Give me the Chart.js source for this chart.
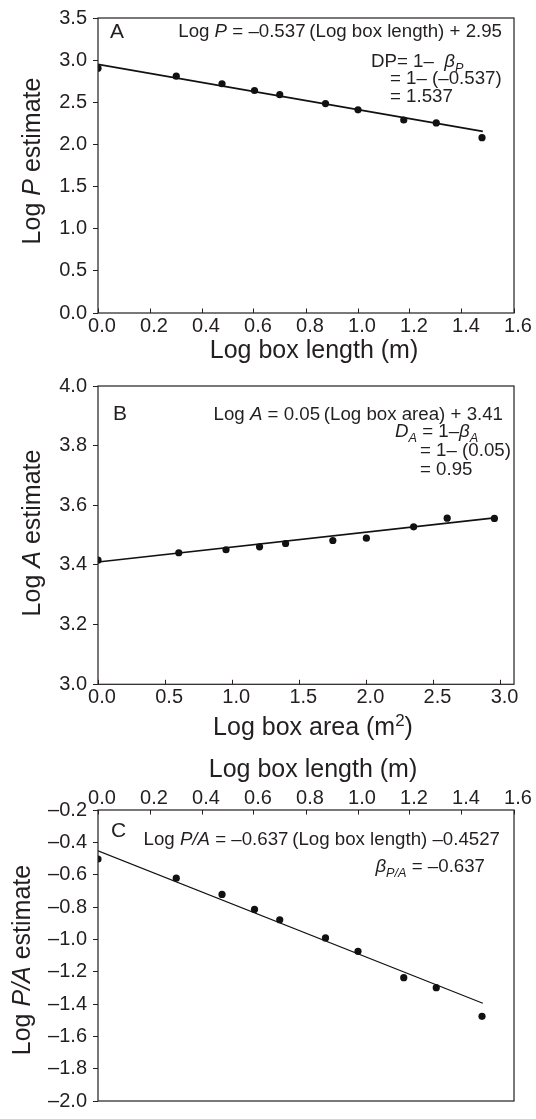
<!DOCTYPE html>
<html>
  <head>
    <script src="https://cdn.jsdelivr.net/npm/chart.js@4.4.1/dist/chart.umd.min.js"></script>
    <style>
      body { margin: 0; background: #fff; }
      canvas { position: absolute; left: 0; }
    </style>
  </head>
  <body>
    <canvas id="panel-a" width="536" height="368" style="top:0px"></canvas>
    <canvas id="panel-b" width="536" height="376" style="top:368px"></canvas>
    <canvas id="panel-c" width="536" height="375" style="top:744px"></canvas>
    <script>
      // INPUT DATA

      const logBoxLength = [0, 0.301, 0.477, 0.602, 0.699, 0.875, 1.0, 1.176, 1.301, 1.477];
      const logPEstimate = [2.905, 2.81, 2.72, 2.64, 2.59, 2.485, 2.41, 2.29, 2.255, 2.08];

      const logBoxArea = [0, 0.602, 0.954, 1.204, 1.398, 1.75, 2.0, 2.352, 2.602, 2.954];
      const logAEstimate = [3.416, 3.441, 3.451, 3.461, 3.472, 3.482, 3.49, 3.528, 3.557, 3.556];

      const logPAEstimate = [-0.503, -0.622, -0.722, -0.815, -0.879, -0.991, -1.074, -1.237, -1.299, -1.476];

      // fitted lines, end points
      const fitAX = [0, 1.48];
      const fitAY = [2.95, 2.155];
      const fitBX = [0, 2.955];
      const fitBY = [3.41, 3.558];
      const fitCX = [0, 1.48];
      const fitCY = [-0.4527, -1.395];

      const FONT = '"Liberation Sans", Arial, Helvetica, sans-serif';
      const INK = "#231f20";
      const EQ = 18.7;
      const TITLE = 25;

      function pairs(xs, ys) {
        return xs.map(function (x, i) {
          return { x: x, y: ys[i] };
        });
      }

      function tickText(v) {
        return (v < -1e-9 ? "\u2013" : "") + Math.abs(v).toFixed(1);
      }

      // rich text: strings are plain, arrays are [text, flags] with i=italic, b=subscript, p=superscript
      function segFont(s, size) {
        const f = s[1] || "";
        const sz = f.indexOf("b") >= 0 || f.indexOf("p") >= 0 ? size * 0.68 : size;
        return (f.indexOf("i") >= 0 ? "italic " : "") + sz + "px " + FONT;
      }
      function drawRich(ctx, segs, x, y, size, align) {
        segs = segs.map(function (s) {
          return typeof s === "string" ? [s, ""] : s;
        });
        let w = 0;
        segs.forEach(function (s) {
          ctx.font = segFont(s, size);
          w += ctx.measureText(s[0]).width;
        });
        let cx = align === "right" ? x - w : align === "center" ? x - w / 2 : x;
        segs.forEach(function (s) {
          ctx.font = segFont(s, size);
          let dy = 0;
          if (s[1].indexOf("b") >= 0) dy = size * 0.28;
          if (s[1].indexOf("p") >= 0) dy = -size * 0.36;
          ctx.fillText(s[0], cx, y + dy);
          cx += ctx.measureText(s[0]).width;
        });
      }

      const notesPlugin = {
        id: "notes",
        afterDraw: function (chart, args, opts) {
          const ctx = chart.ctx;
          const a = chart.chartArea;
          ctx.save();
          // frame round the plot
          ctx.strokeStyle = INK;
          ctx.lineWidth = 1.2;
          ctx.strokeRect(a.left, a.top, a.right - a.left, a.bottom - a.top);
          ctx.fillStyle = INK;
          ctx.textBaseline = "alphabetic";
          opts.items.forEach(function (it) {
            const y = it.y - opts.top;
            if (it.rot) {
              ctx.save();
              ctx.translate(it.x, y);
              ctx.rotate(-Math.PI / 2);
              drawRich(ctx, it.segs, 0, 0, it.size, "center");
              ctx.restore();
            } else {
              drawRich(ctx, it.segs, it.x, y, it.size, it.align || "left");
            }
          });
          ctx.restore();
        },
      };

      function makePanel(id, cfg) {
        const ctx = document.getElementById(id).getContext("2d");
        return new Chart(ctx, {
          type: "scatter",
          data: {
            datasets: [
              {
                data: cfg.points,
                pointRadius: 3.6,
                pointHoverRadius: 3.6,
                backgroundColor: "#111",
                borderColor: "#111",
                borderWidth: 0,
              },
              {
                data: cfg.fit,
                showLine: true,
                pointRadius: 0,
                borderColor: "#111",
                borderWidth: cfg.lineWidth,
              },
            ],
          },
          options: {
            responsive: false,
            animation: false,
            devicePixelRatio: 1,
            layout: { padding: cfg.padding },
            plugins: {
              legend: { display: false },
              tooltip: { enabled: false },
              notes: { top: cfg.top, items: cfg.notes },
            },
            scales: {
              x: {
                type: "linear",
                position: cfg.xPos,
                min: 0,
                max: cfg.xMax,
                ticks: {
                  stepSize: cfg.xStep,
                  includeBounds: false,
                  color: INK,
                  font: { family: FONT, size: 20 },
                  padding: cfg.xPad,
                  labelOffset: 4,
                  maxRotation: 0,
                  autoSkip: false,
                  callback: tickText,
                },
                grid: { drawOnChartArea: false, tickLength: -4.5, color: INK, tickWidth: 1 },
                border: { display: false },
                afterFit: function (s) {
                  s.height = cfg.xHeight;
                },
              },
              y: {
                type: "linear",
                min: cfg.yMin,
                max: cfg.yMax,
                ticks: {
                  stepSize: cfg.yStep,
                  color: INK,
                  font: { family: FONT, size: 20 },
                  padding: 6,
                  autoSkip: false,
                  callback: tickText,
                },
                grid: { drawOnChartArea: false, tickLength: 5, color: INK, tickWidth: 1 },
                border: { display: false },
                afterFit: function (s) {
                  s.width = 98;
                },
              },
            },
          },
          plugins: [notesPlugin],
        });
      }

      window.addEventListener("load", function () {
        makePanel("panel-a", {
          top: 0,
          points: pairs(logBoxLength, logPEstimate),
          fit: pairs(fitAX, fitAY),
          lineWidth: 1.6,
          padding: { top: 13, right: 22, left: 0, bottom: 0 },
          xPos: "bottom",
          xMax: 1.6,
          xStep: 0.2,
          xPad: 6,
          xHeight: 55,
          yMin: 0,
          yMax: 3.5,
          yStep: 0.5,
          notes: [
            { segs: ["A"], x: 110, y: 38, size: 21 },
            { segs: ["Log ", ["P", "i"], " = \u20130.537\u2009(Log box length) + 2.95"], x: 502, y: 37, size: EQ, align: "right" },
            { segs: ["DP= 1\u2013  ", ["\u03b2", "i"], ["P", "ib"]], x: 371, y: 67, size: EQ },
            { segs: ["= 1\u2013 (\u20130.537)"], x: 390, y: 84, size: EQ },
            { segs: ["= 1.537"], x: 390, y: 102, size: EQ },
            { segs: ["Log box length (m)"], x: 314, y: 358, size: TITLE, align: "center" },
            { segs: ["Log ", ["P", "i"], " estimate"], x: 40, y: 161, size: TITLE, rot: true },
          ],
        });

        makePanel("panel-b", {
          top: 368,
          points: pairs(logBoxArea, logAEstimate),
          fit: pairs(fitBX, fitBY),
          lineWidth: 1.6,
          padding: { top: 17, right: 22, left: 0, bottom: 0 },
          xPos: "bottom",
          xMax: 3.1,
          xStep: 0.5,
          xPad: 6,
          xHeight: 59.7,
          yMin: 3.0,
          yMax: 4.0,
          yStep: 0.2,
          notes: [
            { segs: ["B"], x: 113, y: 420, size: 21 },
            { segs: ["Log ", ["A", "i"], " = 0.05\u2009(Log box area) + 3.41"], x: 503, y: 420, size: EQ, align: "right" },
            { segs: [["D", "i"], ["A", "ib"], " = 1\u2013", ["\u03b2", "i"], ["A", "ib"]], x: 395, y: 437, size: EQ },
            { segs: ["= 1\u2013 (0.05)"], x: 420, y: 456, size: EQ },
            { segs: ["= 0.95"], x: 420, y: 475, size: EQ },
            { segs: ["Log box area (m", ["2", "p"], ")"], x: 313, y: 735, size: TITLE, align: "center" },
            { segs: ["Log ", ["A", "i"], " estimate"], x: 40, y: 533, size: TITLE, rot: true },
          ],
        });

        makePanel("panel-c", {
          top: 744,
          points: pairs(logBoxLength, logPAEstimate),
          fit: pairs(fitCX, fitCY),
          lineWidth: 1.1,
          padding: { top: 0, right: 22, left: 0, bottom: 9.7 },
          xPos: "top",
          xMax: 1.6,
          xStep: 0.2,
          xPad: 4.5,
          xHeight: 66,
          yMin: -2.0,
          yMax: -0.2,
          yStep: 0.2,
          notes: [
            { segs: ["C"], x: 111, y: 837, size: 21 },
            { segs: ["Log ", ["P/A", "i"], " = \u20130.637\u2009(Log box length) \u20130.4527"], x: 500, y: 845, size: EQ, align: "right" },
            { segs: [["\u03b2", "i"], ["P/A", "ib"], " = \u20130.637"], x: 485, y: 872, size: EQ, align: "right" },
            { segs: ["Log box length (m)"], x: 313, y: 777, size: TITLE, align: "center" },
            { segs: ["Log ", ["P/A", "i"], " estimate"], x: 30, y: 960, size: TITLE, rot: true },
          ],
        });
      });
    </script>
  </body>
</html>
